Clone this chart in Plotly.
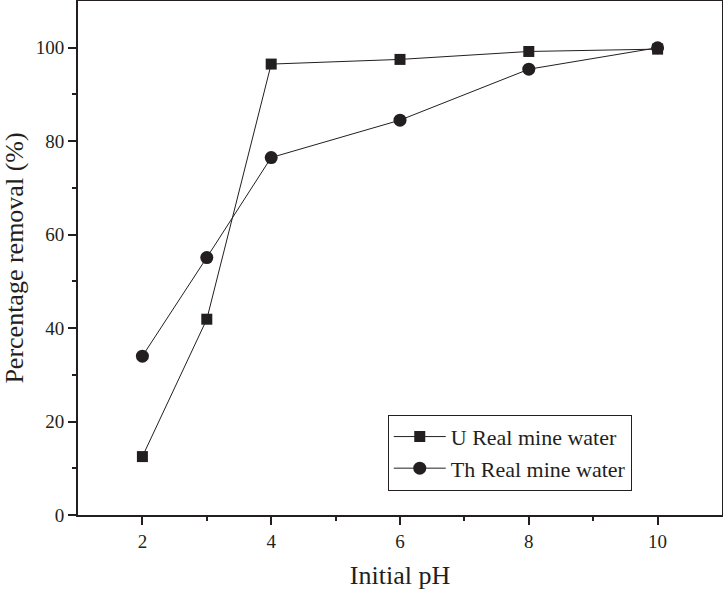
import plotly.graph_objects as go

# initial pH values
ph = [2, 3, 4, 6, 8, 10]
# percentage removal for each series
u_removal = [12.5, 41.9, 96.5, 97.5, 99.2, 99.7]
th_removal = [34.0, 55.1, 76.5, 84.5, 95.4, 100.0]

font_family = "Liberation Serif"

fig = go.Figure()
fig.add_trace(go.Scatter(x=ph, y=u_removal, mode="lines+markers", name="U Real mine water",
                         line=dict(color="#231f20", width=1),
                         marker=dict(symbol="square", size=11, color="#231f20")))
fig.add_trace(go.Scatter(x=ph, y=th_removal, mode="lines+markers", name="Th Real mine water",
                         line=dict(color="#231f20", width=1),
                         marker=dict(symbol="circle", size=13, color="#231f20")))

fig.update_layout(
    width=723, height=590,
    margin=dict(l=78, r=1, t=1, b=75),
    plot_bgcolor="white", paper_bgcolor="white",
    font=dict(family=font_family, color="#231f20", size=19),
    legend=dict(x=0.481, y=0.195, xanchor="left", yanchor="top",
                bgcolor="white", bordercolor="#231f20", borderwidth=1,
                font=dict(size=22), tracegroupgap=0, itemwidth=52),
    showlegend=True,
)
fig.update_xaxes(range=[1, 11], tickvals=[2, 4, 6, 8, 10], automargin=False,
                 showgrid=False, zeroline=False,
                 showline=True, linecolor="#231f20", linewidth=2, mirror=True,
                 ticks="outside", ticklen=8, tickwidth=2, tickcolor="#231f20",
                 minor=dict(tickvals=[3, 5, 7, 9], ticks="outside", ticklen=4,
                            tickwidth=2, tickcolor="#231f20"),
                 title=dict(text="Initial pH", font=dict(size=26), standoff=17),
                 tickfont=dict(size=19))
fig.update_yaxes(range=[0, 110], tickvals=[0, 20, 40, 60, 80, 100], automargin=False,
                 showgrid=False, zeroline=False,
                 showline=True, linecolor="#231f20", linewidth=2, mirror=True,
                 ticks="outside", ticklen=8, tickwidth=2, tickcolor="#231f20",
                 minor=dict(tickvals=[10, 30, 50, 70, 90], ticks="outside", ticklen=4,
                            tickwidth=2, tickcolor="#231f20"),
                 title=dict(text="Percentage removal (%)", font=dict(size=26), standoff=8),
                 tickfont=dict(size=19))

# drop the default page margin so the figure sits at the window's corner
fig.write_html("out.html", config={"displayModeBar": False},
               post_script="document.body.style.margin='0';")
